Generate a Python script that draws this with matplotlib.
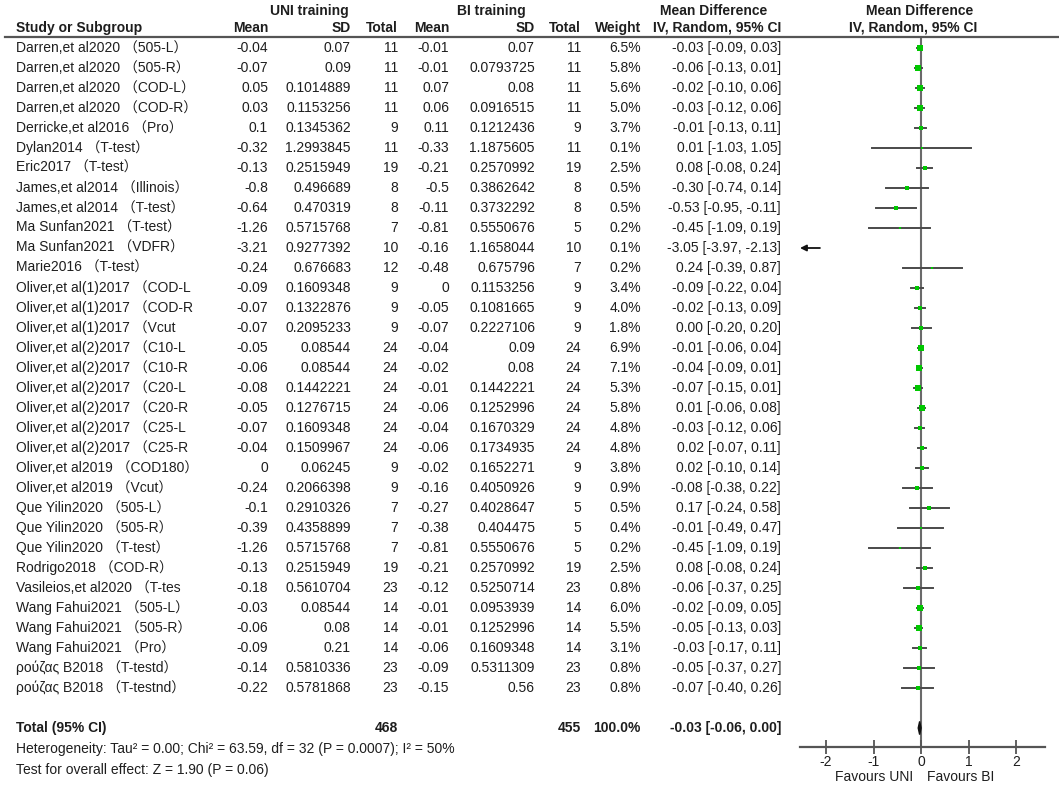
import matplotlib
matplotlib.use('Agg')
import matplotlib.pyplot as plt
from matplotlib.lines import Line2D

plt.rcParams['font.family'] = ['Liberation Sans', 'Noto Sans CJK SC', 'DejaVu Sans']
plt.rcParams['font.size'] = 10
plt.rcParams['axes.unicode_minus'] = False

# ---- data ----
studies = [
    "Darren,et al2020 （505-L）", "Darren,et al2020 （505-R）",
    "Darren,et al2020 （COD-L）", "Darren,et al2020 （COD-R）",
    "Derricke,et al2016 （Pro）", "Dylan2014 （T-test）", "Eric2017 （T-test）",
    "James,et al2014 （Illinois）", "James,et al2014 （T-test）",
    "Ma Sunfan2021 （T-test）", "Ma Sunfan2021 （VDFR）", "Marie2016 （T-test）",
    "Oliver,et al(1)2017 （COD-L", "Oliver,et al(1)2017 （COD-R",
    "Oliver,et al(1)2017 （Vcut", "Oliver,et al(2)2017 （C10-L",
    "Oliver,et al(2)2017 （C10-R", "Oliver,et al(2)2017 （C20-L",
    "Oliver,et al(2)2017 （C20-R", "Oliver,et al(2)2017 （C25-L",
    "Oliver,et al(2)2017 （C25-R", "Oliver,et al2019 （COD180）",
    "Oliver,et al2019 （Vcut）", "Que Yilin2020 （505-L）", "Que Yilin2020 （505-R）",
    "Que Yilin2020 （T-test）", "Rodrigo2018 （COD-R）", "Vasileios,et al2020 （T-tes",
    "Wang Fahui2021 （505-L）", "Wang Fahui2021 （505-R）", "Wang Fahui2021 （Pro）",
    "ρούζας B2018 （T-testd）", "ρούζας B2018 （T-testnd）",
]
uni_mean = [-0.04, -0.07, 0.05, 0.03, 0.1, -0.32, -0.13, -0.8, -0.64, -1.26, -3.21,
            -0.24, -0.09, -0.07, -0.07, -0.05, -0.06, -0.08, -0.05, -0.07, -0.04, 0,
            -0.24, -0.1, -0.39, -1.26, -0.13, -0.18, -0.03, -0.06, -0.09, -0.14, -0.22]
uni_sd = [0.07, 0.09, 0.1014889, 0.1153256, 0.1345362, 1.2993845, 0.2515949, 0.496689,
          0.470319, 0.5715768, 0.9277392, 0.676683, 0.1609348, 0.1322876, 0.2095233,
          0.08544, 0.08544, 0.1442221, 0.1276715, 0.1609348, 0.1509967, 0.06245,
          0.2066398, 0.2910326, 0.4358899, 0.5715768, 0.2515949, 0.5610704, 0.08544,
          0.08, 0.21, 0.5810336, 0.5781868]
uni_n = [11, 11, 11, 11, 9, 11, 19, 8, 8, 7, 10, 12, 9, 9, 9, 24, 24, 24, 24, 24, 24,
         9, 9, 7, 7, 7, 19, 23, 14, 14, 14, 23, 23]
bi_mean = [-0.01, -0.01, 0.07, 0.06, 0.11, -0.33, -0.21, -0.5, -0.11, -0.81, -0.16,
           -0.48, 0, -0.05, -0.07, -0.04, -0.02, -0.01, -0.06, -0.04, -0.06, -0.02,
           -0.16, -0.27, -0.38, -0.81, -0.21, -0.12, -0.01, -0.01, -0.06, -0.09, -0.15]
bi_sd = [0.07, 0.0793725, 0.08, 0.0916515, 0.1212436, 1.1875605, 0.2570992, 0.3862642,
         0.3732292, 0.5550676, 1.1658044, 0.675796, 0.1153256, 0.1081665, 0.2227106,
         0.09, 0.08, 0.1442221, 0.1252996, 0.1670329, 0.1734935, 0.1652271, 0.4050926,
         0.4028647, 0.404475, 0.5550676, 0.2570992, 0.5250714, 0.0953939, 0.1252996,
         0.1609348, 0.5311309, 0.56]
bi_n = [11, 11, 11, 11, 9, 11, 19, 8, 8, 5, 10, 7, 9, 9, 9, 24, 24, 24, 24, 24, 24,
        9, 9, 5, 5, 5, 19, 23, 14, 14, 14, 23, 23]
weight = [6.5, 5.8, 5.6, 5.0, 3.7, 0.1, 2.5, 0.5, 0.5, 0.2, 0.1, 0.2, 3.4, 4.0, 1.8,
          6.9, 7.1, 5.3, 5.8, 4.8, 4.8, 3.8, 0.9, 0.5, 0.4, 0.2, 2.5, 0.8, 6.0, 5.5,
          3.1, 0.8, 0.8]
md = [-0.03, -0.06, -0.02, -0.03, -0.01, 0.01, 0.08, -0.30, -0.53, -0.45, -3.05, 0.24,
      -0.09, -0.02, 0.00, -0.01, -0.04, -0.07, 0.01, -0.03, 0.02, 0.02, -0.08, 0.17,
      -0.01, -0.45, 0.08, -0.06, -0.02, -0.05, -0.03, -0.05, -0.07]
ci_lo = [-0.09, -0.13, -0.10, -0.12, -0.13, -1.03, -0.08, -0.74, -0.95, -1.09, -3.97,
         -0.39, -0.22, -0.13, -0.20, -0.06, -0.09, -0.15, -0.06, -0.12, -0.07, -0.10,
         -0.38, -0.24, -0.49, -1.09, -0.08, -0.37, -0.09, -0.13, -0.17, -0.37, -0.40]
ci_hi = [0.03, 0.01, 0.06, 0.06, 0.11, 1.05, 0.24, 0.14, -0.11, 0.19, -2.13, 0.87, 0.04,
         0.09, 0.20, 0.04, 0.01, 0.01, 0.08, 0.06, 0.11, 0.14, 0.22, 0.58, 0.47, 0.19,
         0.24, 0.25, 0.05, 0.03, 0.11, 0.27, 0.26]
total_n = [468, 455]
total_weight = 100.0
total_md, total_lo, total_hi = -0.03, -0.06, 0.00
heterogeneity = "Heterogeneity: Tau² = 0.00; Chi² = 63.59, df = 32 (P = 0.0007); I² = 50%"
overall = "Test for overall effect: Z = 1.90 (P = 0.06)"
axis_ticks = [-2, -1, 0, 1, 2]

# ---- layout (pixels) ----
W, H = 1059, 788
row0, step = 48, 20
header_line = 37
axis_y = 747
col_uni_mean, col_uni_sd, col_uni_n = 268, 351, 398
col_bi_mean, col_bi_sd, col_bi_n = 449, 535, 581
col_w, col_ci = 641, 781
txt = '#1e1e1e'

fig = plt.figure(figsize=(W / 100, H / 100), dpi=100)


def put(x, y, s, ha='right', bold=False, size=10):
    fig.text(x / W, 1 - y / H, s, ha=ha, va='center', color=txt, fontsize=size,
             fontweight='bold' if bold else 'normal')


def ypix(i):
    return row0 + step * i


# headers
put(309, 11, 'UNI training', ha='center', bold=True)
put(491, 11, 'BI training', ha='center', bold=True)
put(714, 11, 'Mean Difference', ha='center', bold=True)
put(920, 11, 'Mean Difference', ha='center', bold=True)
put(16, 28, 'Study or Subgroup', ha='left', bold=True)
for x, s in [(col_uni_mean, 'Mean'), (col_uni_sd, 'SD'), (col_uni_n, 'Total'),
             (col_bi_mean, 'Mean'), (col_bi_sd, 'SD'), (col_bi_n, 'Total'),
             (col_w, 'Weight'), (col_ci, 'IV, Random, 95% CI')]:
    put(x, 28, s, bold=True)
put(913, 28, 'IV, Random, 95% CI', ha='center', bold=True)
fig.add_artist(Line2D([5 / W, 1], [1 - header_line / H] * 2, color='#555', lw=1.6))

# table rows
for i, name in enumerate(studies):
    y = ypix(i)
    put(16, y, name, ha='left')
    put(col_uni_mean, y, str(uni_mean[i]))
    put(col_uni_sd, y, str(uni_sd[i]))
    put(col_uni_n, y, str(uni_n[i]))
    put(col_bi_mean, y, str(bi_mean[i]))
    put(col_bi_sd, y, str(bi_sd[i]))
    put(col_bi_n, y, str(bi_n[i]))
    put(col_w, y, f"{weight[i]:.1f}%")
    put(col_ci, y, f"{md[i]:.2f} [{ci_lo[i]:.2f}, {ci_hi[i]:.2f}]")

tot_row = len(studies) + 1
yt = ypix(tot_row)
put(16, yt, 'Total (95% CI)', ha='left', bold=True)
put(col_uni_n, yt, str(total_n[0]), bold=True)
put(col_bi_n, yt, str(total_n[1]), bold=True)
put(col_w, yt, f"{total_weight:.1f}%", bold=True)
put(col_ci, yt, f"{total_md:.2f} [{total_lo:.2f}, {total_hi:.2f}]", bold=True)
put(16, 749, heterogeneity, ha='left')
put(16, 770, overall, ha='left')

# forest plot
ax = fig.add_axes([800 / W, 1 - axis_y / H, 245 / W, (axis_y - header_line) / H])
ax.set_xlim(-2.55, 2.61)
ax.set_ylim((axis_y - row0) / step, (header_line - row0) / step)
ax.set_facecolor('none')
for s in ['top', 'left', 'right']:
    ax.spines[s].set_visible(False)
ax.spines['bottom'].set_color('#555')
ax.spines['bottom'].set_linewidth(1.6)
ax.set_yticks([])
ax.set_xticks(axis_ticks)
ax.tick_params(axis='x', direction='inout', length=10, width=1.3, color='#555',
               labelcolor=txt, labelsize=10, pad=1)
ax.axvline(0, color='#6a6a6a', lw=1.5, zorder=1)

left = ax.get_xlim()[0]
for i in range(len(studies)):
    if ci_lo[i] < left:
        ax.annotate('', xy=(left, i), xytext=(ci_hi[i], i),
                    arrowprops=dict(arrowstyle='-|>', color='#111', lw=1.3,
                                    mutation_scale=9, shrinkA=0, shrinkB=0))
        continue
    ax.plot([ci_lo[i], ci_hi[i]], [i, i], color='#4a4a4a', lw=1.4, zorder=2)
    ax.plot(md[i], i, 's', color='#00c800', ms=2.0 + 0.33 * weight[i], mew=0, zorder=3)

ax.fill([total_lo, total_md, total_hi, total_md],
        [tot_row, tot_row - 0.33, tot_row, tot_row + 0.33], color='#111', zorder=3)

put(913, 777, 'Favours UNI')
put(927, 777, 'Favours BI', ha='left')

fig.savefig('out.png', dpi=100)
